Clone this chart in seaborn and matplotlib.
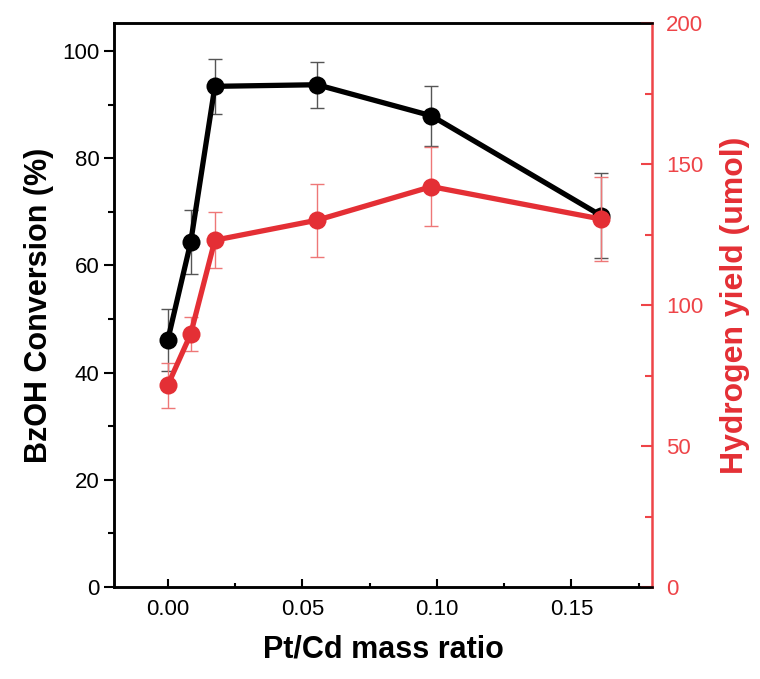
import numpy as np
import pandas as pd
import seaborn as sns
import matplotlib.pyplot as plt

# Pt/Cd mass ratio
ratio = [0.0, 0.0085, 0.0175, 0.0555, 0.098, 0.161]
# BzOH conversion (%) and error
conversion = [46.1, 64.3, 93.4, 93.7, 87.9, 69.3]
conversion_err = [5.8, 6.0, 5.1, 4.3, 5.6, 8.0]
# hydrogen yield (umol) and error
hydrogen = [71.6, 89.7, 123.0, 130.1, 142.0, 130.5]
hydrogen_err = [8.0, 6.0, 10.0, 13.0, 14.0, 15.0]

df = pd.DataFrame({'ratio': ratio, 'conv': conversion, 'conv_err': conversion_err,
                   'h2': hydrogen, 'h2_err': hydrogen_err})

sns.set_style("ticks")
plt.rcParams['font.family'] = ['Liberation Sans', 'DejaVu Sans']
plt.rcParams['text.color'] = 'black'
plt.rcParams['axes.labelcolor'] = 'black'
plt.rcParams['axes.edgecolor'] = 'black'
plt.rcParams['xtick.color'] = 'black'
plt.rcParams['ytick.color'] = 'black'

red = '#e42f35'
red_axis = '#ee4448'

fig = plt.figure(figsize=(7.6, 6.79), dpi=100)
ax = fig.add_axes([0.15, 0.1355, 0.708, 0.8305])
ax2 = ax.twinx()

ax.errorbar(df['ratio'], df['conv'], yerr=df['conv_err'], fmt='none',
            ecolor='#555555', elinewidth=1, capsize=5, capthick=1, zorder=1)
sns.lineplot(x='ratio', y='conv', data=df, ax=ax, color='black', linewidth=3.8,
             marker='o', markersize=13, markeredgewidth=0, zorder=3)

ax2.errorbar(df['ratio'], df['h2'], yerr=df['h2_err'], fmt='none',
             ecolor='#ee7777', elinewidth=1, capsize=5, capthick=1, zorder=1)
sns.lineplot(x='ratio', y='h2', data=df, ax=ax2, color=red, linewidth=3.8,
             marker='o', markersize=13, markeredgewidth=0, zorder=3)

ax.set_xlim(-0.02, 0.18)
ax.set_ylim(0, 105.2)
ax2.set_ylim(0, 200)

ax.set_xticks([0.0, 0.05, 0.10, 0.15])
ax.set_xticklabels(['0.00', '0.05', '0.10', '0.15'])
ax.set_xticks([0.025, 0.075, 0.125, 0.175], minor=True)
ax.set_yticks([0, 20, 40, 60, 80, 100])
ax.set_yticks([10, 30, 50, 70, 90], minor=True)
ax2.set_yticks([0, 50, 100, 150, 200])
ax2.set_yticks([25, 75, 125, 175], minor=True)

ax.tick_params(axis='x', which='both', direction='in', labelsize=16, width=1.5, pad=9)
ax.tick_params(axis='x', which='major', length=6)
ax.tick_params(axis='x', which='minor', length=3)
ax.tick_params(axis='y', which='both', direction='out', labelsize=16, width=1.5)
ax.tick_params(axis='y', which='major', length=7)
ax.tick_params(axis='y', which='minor', length=4)
ax2.tick_params(axis='y', which='both', direction='in', labelsize=16, width=1.5,
                colors=red_axis, pad=10)
ax2.tick_params(axis='y', which='major', length=8)
ax2.tick_params(axis='y', which='minor', length=5)

for s in ['left', 'bottom', 'top']:
    ax.spines[s].set_linewidth(1.8)
    ax2.spines[s].set_linewidth(1.8)
ax2.spines['right'].set_linewidth(1.8)
ax2.spines['right'].set_color(red_axis)
ax.spines['right'].set_visible(False)

ax.set_xlabel('Pt/Cd mass ratio', fontsize=22, fontweight='bold', labelpad=10)
ax.set_ylabel('BzOH Conversion (%)', fontsize=22, fontweight='bold', labelpad=6)
ax2.set_ylabel('Hydrogen yield (umol)', fontsize=23, fontweight='bold', color=red, labelpad=12)

fig.savefig('out.png', dpi=100)
